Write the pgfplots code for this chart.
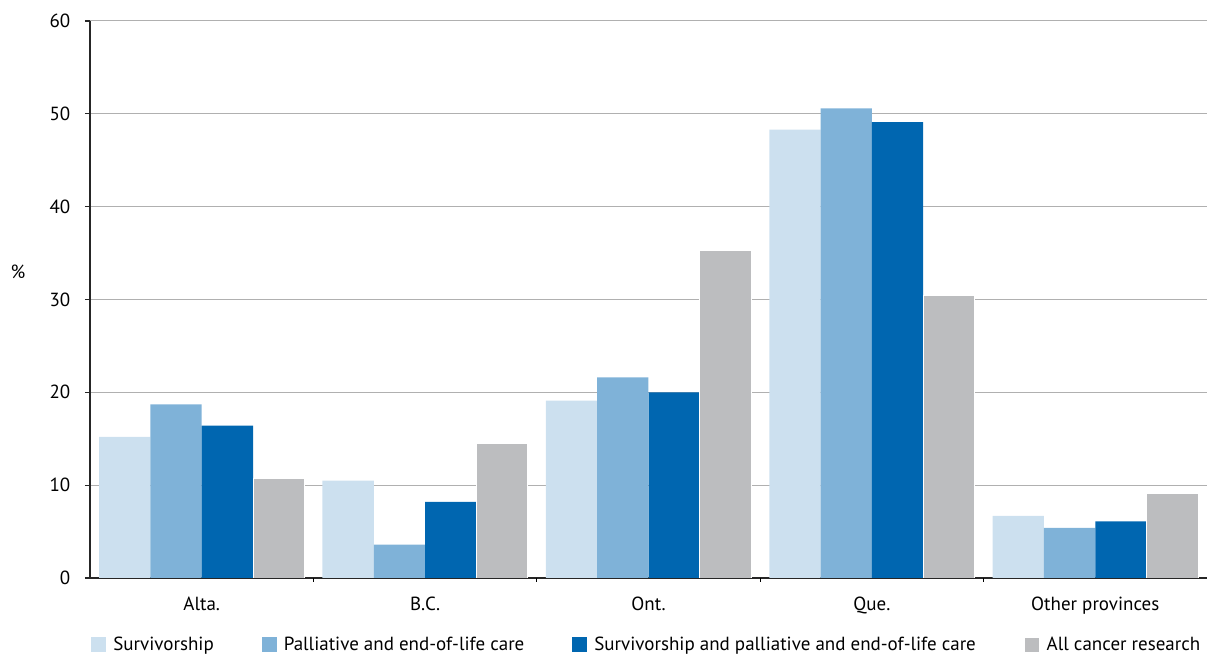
\documentclass[border=0pt]{standalone}
\usepackage{pgfplots}
\pgfplotsset{compat=1.18}
\usepackage{fontspec}
\setmainfont{PT Sans}
\definecolor{c1}{HTML}{CCE0EF}
\definecolor{c2}{HTML}{7FB2D8}
\definecolor{c3}{HTML}{0066B0}
\definecolor{c4}{HTML}{BCBDBF}
\definecolor{gridc}{HTML}{B0B0B0}
\begin{document}
\fontsize{9.5pt}{11pt}\selectfont
\begin{tikzpicture}
\begin{axis}[
  scale only axis,
  width=558.5pt, height=278.5pt,
  xmin=-0.5, xmax=4.5, ymin=0, ymax=60,
  axis x line*=bottom, axis y line*=left,
  axis line style={line width=0.8pt, black!85},
  ytick={0,10,...,60},
  ymajorgrids, grid style={gridc, line width=0.5pt},
  ytick style={black!85, line width=0.6pt},
  tick align=outside, major tick length=2.5pt,
  xtick={0,1,2,3,4},
  xticklabels={Alta., B.C., Ont., Que., Other provinces},
  xtick style={draw=none},
  extra x ticks={0.5,1.5,2.5,3.5},
  extra x tick labels={},
  extra x tick style={xtick style={draw=black, line width=0.6pt}, major tick length=2pt, grid=none},
  xticklabel style={yshift=-3.8pt},
  yticklabel style={xshift=-4pt},
  /pgf/number format/assume math mode=true,
  ticklabel style={font=\fontsize{9.5pt}{11pt}\selectfont},
  every axis y label/.style={at={(rel axis cs:0,0.55)}, xshift=-36pt, anchor=center},
  ylabel={\%},
  ybar, bar width=0.2297,
  legend style={at={(0,0)}, anchor=west, yshift=-33.5pt, xshift=0.5pt, draw=none, inner sep=0pt,
    legend columns=4,
    /tikz/every odd column/.append style={column sep=1.5pt},
    /tikz/every even column/.append style={column sep=22pt},
    font=\fontsize{9.5pt}{11pt}\selectfont},
  legend image code/.code={\fill[#1] (0pt,-3.7pt) rectangle (7.5pt,3.8pt);},
  legend cell align=left,
]
\addplot[fill=c1, draw=none, bar shift=-0.3446] coordinates {(0,15.2) (1,10.5) (2,19.1) (3,48.3) (4,6.7)};
\addplot[fill=c2, draw=none, bar shift=-0.1149] coordinates {(0,18.7) (1,3.6) (2,21.6) (3,50.6) (4,5.4)};
\addplot[fill=c3, draw=none, bar shift=0.1149] coordinates {(0,16.4) (1,8.2) (2,20.0) (3,49.1) (4,6.1)};
\addplot[fill=c4, draw=white, line width=0.4pt, bar shift=0.3446] coordinates {(0,10.7) (1,14.5) (2,35.3) (3,30.4) (4,9.1)};
\legend{Survivorship, Palliative and end-of-life care, Survivorship and palliative and end-of-life care, All cancer research}
\end{axis}
\pgfresetboundingbox
\path ([shift={(-45pt,-39pt)}]current axis.south west) rectangle ([shift={(0pt,10.5pt)}]current axis.north east);
\end{tikzpicture}
\end{document}
